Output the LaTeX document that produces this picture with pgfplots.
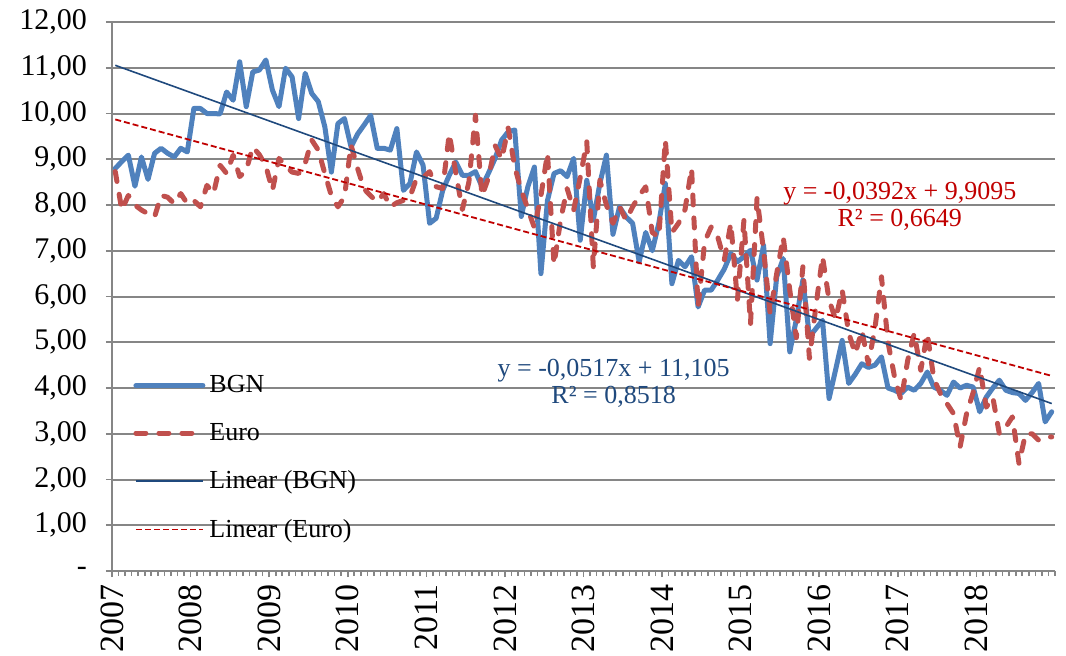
\documentclass[border=0pt]{standalone}
\usepackage{fontspec}
\setmainfont{Liberation Serif}
\usepackage{pgfplots}
\usepackage{pgfplotstable}
\pgfplotsset{compat=1.18}
\definecolor{bgn}{HTML}{4F81BD}
\definecolor{euro}{HTML}{C0504D}
\definecolor{tbgn}{HTML}{1F497D}
\definecolor{teuro}{HTML}{C00000}
\definecolor{gridgray}{HTML}{868686}

\pgfplotstableread{
i bgn euro
0 8.80 8.73
1 8.95 7.89
2 9.09 8.21
3 8.41 8.00
4 9.05 7.89
5 8.56 7.81
6 9.13 7.74
7 9.24 8.21
8 9.13 8.17
9 9.05 8.03
10 9.24 8.25
11 9.16 8.03
12 10.11 8.10
13 10.11 7.96
14 10.00 8.43
15 10.00 8.25
16 9.99 8.87
17 10.47 8.69
18 10.29 9.09
19 11.13 8.62
20 10.15 8.76
21 10.91 9.27
22 10.95 9.10
23 11.17 8.85
24 10.51 8.32
25 10.15 9.02
26 10.99 8.85
27 10.80 8.72
28 9.89 8.69
29 10.88 8.91
30 10.44 9.42
31 10.26 9.20
32 9.71 8.69
33 8.72 8.20
34 9.78 7.96
35 9.89 8.18
36 9.27 9.31
37 9.55 8.80
38 9.75 8.35
39 9.96 8.20
40 9.24 8.07
41 9.24 8.25
42 9.20 7.96
43 9.67 8.05
44 8.32 8.10
45 8.47 8.18
46 9.16 8.58
47 8.87 8.60
48 7.60 8.73
49 7.71 8.40
50 8.32 8.36
51 8.65 9.56
52 8.94 8.70
53 8.65 7.90
54 8.65 8.50
55 8.73 9.96
56 8.40 8.20
57 8.70 8.60
58 9.02 9.30
59 9.42 9.00
60 9.60 9.68
61 9.64 8.83
62 7.75 8.32
63 8.40 7.92
64 8.83 7.50
65 6.50 8.20
66 8.10 9.13
67 8.69 6.70
68 8.75 7.67
69 8.62 8.36
70 9.02 7.89
71 7.23 8.60
72 8.54 9.38
73 7.67 6.65
74 8.47 8.54
75 9.09 8.00
76 7.36 7.60
77 7.96 7.96
78 7.74 7.67
79 7.60 7.96
80 6.76 8.20
81 7.40 8.40
82 7.00 7.40
83 7.60 7.30
84 8.47 9.42
85 6.28 7.40
86 6.79 7.60
87 6.65 7.90
88 6.87 8.80
89 5.77 5.77
90 6.14 7.20
91 6.14 7.52
92 6.36 7.30
93 6.60 6.80
94 6.94 7.60
95 6.76 5.92
96 6.87 7.67
97 7.01 5.40
98 6.36 8.15
99 7.12 7.00
100 4.97 5.63
101 6.43 6.50
102 6.83 7.30
103 4.79 6.14
104 5.50 5.10
105 6.36 6.65
106 5.12 4.65
107 5.30 5.80
108 5.48 6.87
109 3.77 5.92
110 4.40 5.50
111 5.04 6.14
112 4.10 5.20
113 4.30 4.75
114 4.53 5.26
115 4.45 4.53
116 4.50 5.30
117 4.68 6.43
118 4.00 5.00
119 3.95 4.24
120 3.88 3.73
121 4.02 4.60
122 3.95 5.19
123 4.10 4.39
124 4.35 5.19
125 4.02 4.20
126 3.95 3.88
127 3.84 3.66
128 4.13 3.44
129 4.00 2.71
130 4.06 3.44
131 4.02 3.90
132 3.48 4.46
133 3.80 3.58
134 4.00 3.80
135 4.17 3.00
136 3.95 3.15
137 3.90 3.37
138 3.88 2.35
139 3.73 3.00
140 3.90 3.00
141 4.10 2.86
142 3.26 2.93
143 3.48 2.93
}\datatable

\begin{document}
\begin{tikzpicture}
\begin{axis}[
  scale only axis, width=471.5pt, height=274.5pt,
  xmin=-0.5, xmax=143.5, ymin=0, ymax=12,
  axis x line*=bottom, axis y line*=left,
  axis line style={draw=gridgray, line width=1pt},
  ytick={0,1,...,12},
  yticklabels={-,{1,00},{2,00},{3,00},{4,00},{5,00},{6,00},{7,00},{8,00},{9,00},{10,00},{11,00},{12,00}},
  xtick={-0.5,11.5,...,131.5},
  xticklabels={2007,2008,2009,2010,2011,2012,2013,2014,2015,2016,2017,2018},
  minor xtick={-0.5,0.5,...,143.5},
  tick align=outside,
  major tick length=3pt, minor tick length=2.5pt,
  tick style={draw=gridgray, line width=0.8pt},
  ymajorgrids, major grid style={draw=gridgray, line width=1pt},
  yticklabel style={font=\fontsize{15}{15}\selectfont, anchor=east, xshift=-6pt},
  xticklabel style={font=\fontsize{17}{17}\selectfont, rotate=90, anchor=east},
  clip=false,
  legend style={at={(rel axis cs:0.0223,0.364)}, anchor=north west, draw=none, fill=none, inner sep=0pt,
    font=\fontsize{13}{13}\selectfont, row sep=9.7pt,
    /tikz/every even column/.append style={column sep=5pt}},
  legend cell align=left,
  legend image code/.code={\draw[#1] (0pt,0pt) -- (33.5pt,0pt);},
]
\addplot[bgn, line width=2.5pt, line join=round, line cap=round] table[x=i, y=bgn] {\datatable};
\addlegendentry{BGN}
\addplot[euro, line width=2.5pt, line join=round, line cap=round, dash pattern=on 5pt off 6.5pt] table[x=i, y=euro] {\datatable};
\addlegendentry{Euro}
\addplot[tbgn, line width=0.8pt] coordinates {(0,11.0533) (143,3.6602)};
\addlegendentry{Linear (BGN)}
\addplot[teuro, line width=0.9pt, dash pattern=on 3pt off 1.5pt] coordinates {(0,9.8703) (143,4.2647)};
\addlegendentry{Linear (Euro)}
\node[text=tbgn, align=center, font=\fontsize{13}{13.5}\selectfont] at (axis cs:76.1,4.10) {y = -0,0517x + 11,105\\R² = 0,8518};
\node[text=teuro, align=center, font=\fontsize{13}{13.5}\selectfont] at (axis cs:119.8,7.98) {y = -0,0392x + 9,9095\\R² = 0,6649};
\end{axis}
\pgfresetboundingbox
\path (-56pt,-42pt) rectangle (477pt,285.5pt);
\end{tikzpicture}
\end{document}
